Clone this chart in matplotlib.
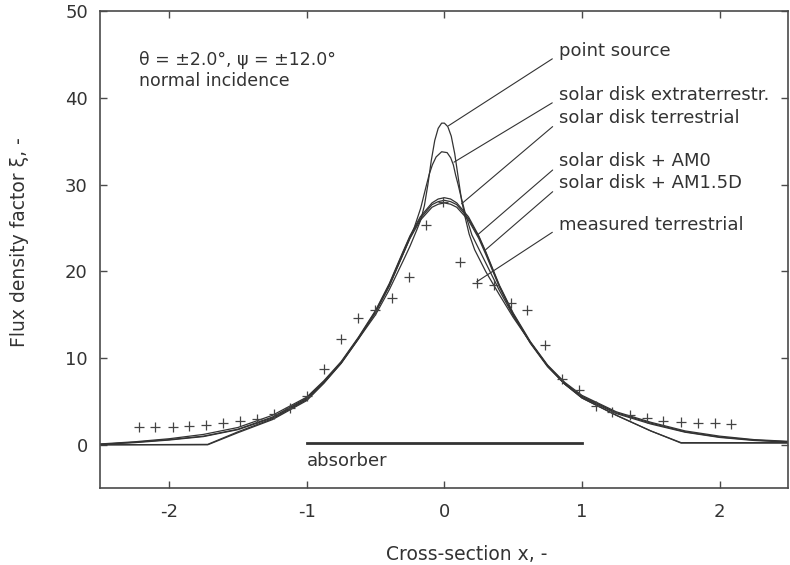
import matplotlib.pyplot as plt

# ---- values ----
# smooth curves with circumsolar tails
x_smooth = [-2.5, -2.25, -2.0, -1.75, -1.5, -1.25, -1.0, -0.875, -0.75, -0.625, -0.5, -0.4,
            -0.3, -0.25, -0.175, -0.09, -0.045, 0.0, 0.045, 0.09, 0.175, 0.25, 0.3, 0.4,
            0.5, 0.625, 0.75, 0.875, 1.0, 1.25, 1.5, 1.75, 2.0, 2.25, 2.5]
terrestrial = [0.1, 0.35, 0.7, 1.2, 2.0, 3.4, 5.5, 7.4, 9.6, 12.4, 15.5, 18.6,
               22.3, 24.1, 26.3, 27.9, 28.35, 28.5, 28.35, 27.9, 26.3, 24.1, 22.3, 18.4,
               15.2, 11.9, 9.2, 7.2, 5.7, 3.8, 2.6, 1.6, 1.0, 0.6, 0.4]
am0 = [0.05, 0.3, 0.6, 1.0, 1.8, 3.2, 5.4, 7.3, 9.5, 12.3, 15.4, 18.5,
       22.2, 24.0, 26.1, 27.7, 28.05, 28.2, 28.05, 27.7, 26.1, 24.0, 22.2, 18.3,
       15.1, 11.8, 9.1, 7.1, 5.6, 3.7, 2.5, 1.5, 0.9, 0.55, 0.35]
am15d = [0.05, 0.25, 0.55, 0.95, 1.75, 3.1, 5.3, 7.2, 9.4, 12.2, 15.3, 18.4,
         22.0, 23.8, 25.9, 27.4, 27.75, 27.9, 27.75, 27.4, 25.9, 23.8, 22.0, 18.2,
         15.0, 11.7, 9.0, 7.0, 5.5, 3.6, 2.4, 1.45, 0.85, 0.5, 0.3]

# curves without tails (kink near |x| = 1.72)
x_point = [-2.5, -1.72, -1.5, -1.25, -1.0, -0.875, -0.75, -0.625, -0.5, -0.4, -0.3, -0.25,
           -0.2, -0.17, -0.145, -0.12, -0.095, -0.07, -0.045, -0.02, 0.0, 0.025, 0.05,
           0.075, 0.1, 0.125, 0.15, 0.18, 0.22, 0.3, 0.4, 0.5, 0.625, 0.75, 0.875, 1.0,
           1.25, 1.5, 1.72, 2.5]
point_source = [0.0, 0.0, 1.4, 2.9, 5.1, 7.1, 9.4, 12.2, 15.0, 17.9, 21.2, 22.9,
                24.8, 26.0, 27.6, 30.0, 32.8, 35.1, 36.5, 37.1, 37.1, 36.7, 35.6,
                33.6, 30.9, 28.2, 26.3, 24.3, 22.5, 20.0, 17.3, 14.7, 11.8, 9.1, 7.0, 5.4,
                3.4, 1.6, 0.2, 0.2]

x_extra = [-2.5, -1.72, -1.5, -1.25, -1.0, -0.875, -0.75, -0.625, -0.5, -0.4, -0.3, -0.22,
           -0.172, -0.136, -0.11, -0.087, -0.06, -0.02, 0.02, 0.046, 0.065, 0.082, 0.1,
           0.118, 0.155, 0.2, 0.3, 0.4, 0.5, 0.625, 0.75, 0.875, 1.0, 1.25, 1.5, 1.72, 2.5]
extraterrestrial = [0.0, 0.05, 1.5, 3.0, 5.2, 7.2, 9.5, 12.3, 15.3, 18.3, 22.0, 25.0,
                    27.3, 29.6, 31.2, 32.3, 33.2, 33.8, 33.7, 33.1, 32.3, 31.1, 30.0,
                    28.8, 26.5, 24.2, 21.0, 17.8, 14.9, 11.8, 9.1, 7.0, 5.4, 3.4, 1.6,
                    0.25, 0.25]

# measured terrestrial (crosses)
x_meas = [-2.22, -2.10, -1.975, -1.855, -1.73, -1.605, -1.485, -1.36, -1.24, -1.12,
          -0.997, -0.874, -0.748, -0.627, -0.503, -0.383, -0.26, -0.136, -0.012, 0.111,
          0.235, 0.358, 0.482, 0.603, 0.728, 0.857, 0.978, 1.099, 1.22, 1.346,
          1.47, 1.59, 1.716, 1.84, 1.963, 2.084]
measured = [2.0, 2.0, 2.0, 2.2, 2.3, 2.5, 2.7, 3.0, 3.6, 4.2,
            5.6, 8.8, 12.2, 14.6, 15.5, 16.9, 19.4, 25.4, 28.0, 21.1,
            18.7, 18.4, 16.3, 15.5, 11.5, 7.6, 6.3, 4.5, 3.8, 3.4,
            3.1, 2.8, 2.6, 2.5, 2.5, 2.35]

ink = '#333333'
plt.rcParams['font.family'] = ['DejaVu Sans']

fig = plt.figure(figsize=(7.9, 5.65), dpi=100)
ax = fig.add_axes([0.127, 0.136, 0.871, 0.844])

ax.plot(x_smooth, terrestrial, color=ink, lw=0.9)
ax.plot(x_smooth, am0, color=ink, lw=0.9)
ax.plot(x_smooth, am15d, color=ink, lw=0.9)
ax.plot(x_point, point_source, color=ink, lw=0.9)
ax.plot(x_extra, extraterrestrial, color=ink, lw=0.9)
ax.plot(x_meas, measured, linestyle='none', marker='+', ms=6.5, mew=0.9, color='#444444')

# absorber bar
ax.plot([-1.0, 1.0], [0.2, 0.2], color=ink, lw=2)
ax.text(-1.0, -1.9, 'absorber', fontsize=13, color=ink, ha='left', va='center')

ax.text(-2.22, 44.4, 'θ = ±2.0°, ψ = ±12.0°', fontsize=12.5, color=ink, ha='left', va='center')
ax.text(-2.22, 42.0, 'normal incidence', fontsize=12.5, color=ink, ha='left', va='center')

# labels with leader lines
notes = [('point source', (0.03, 36.8), 45.4),
         ('solar disk extraterrestr.', (0.07, 32.6), 40.3),
         ('solar disk terrestrial', (0.125, 27.8), 37.7),
         ('solar disk + AM0', (0.24, 24.2), 32.7),
         ('solar disk + AM1.5D', (0.30, 22.5), 30.2),
         ('measured terrestrial', (0.235, 18.8), 25.4)]
for txt, xy, ty in notes:
    ax.annotate(txt, xy=xy, xytext=(0.83, ty), fontsize=13, color=ink,
                ha='left', va='center',
                arrowprops=dict(arrowstyle='-', color=ink, lw=0.8,
                                shrinkA=3, shrinkB=0, relpos=(0, 0.3)))

ax.set_xlim(-2.5, 2.5)
ax.set_ylim(-5, 50)
ax.set_xticks([-2, -1, 0, 1, 2])
ax.set_xticklabels(['-2', '-1', '0', '1', '2'])
ax.set_yticks([0, 10, 20, 30, 40, 50])
ax.tick_params(direction='in', length=5, width=1, color='#4a4a4a',
               top=True, right=True, labelsize=13, labelcolor=ink)
ax.tick_params(axis='x', pad=11)
ax.tick_params(axis='y', pad=9)
for s in ax.spines.values():
    s.set_color('#4a4a4a')
    s.set_linewidth(1.2)

ax.set_xlabel('Cross-section x, -', fontsize=13.5, color=ink)
ax.set_ylabel('Flux density factor ξ, -', fontsize=13.5, color=ink)
ax.xaxis.set_label_coords(0.533, -0.12)
ax.yaxis.set_label_coords(-0.104, 0.515)

fig.savefig('out.png', dpi=100)
